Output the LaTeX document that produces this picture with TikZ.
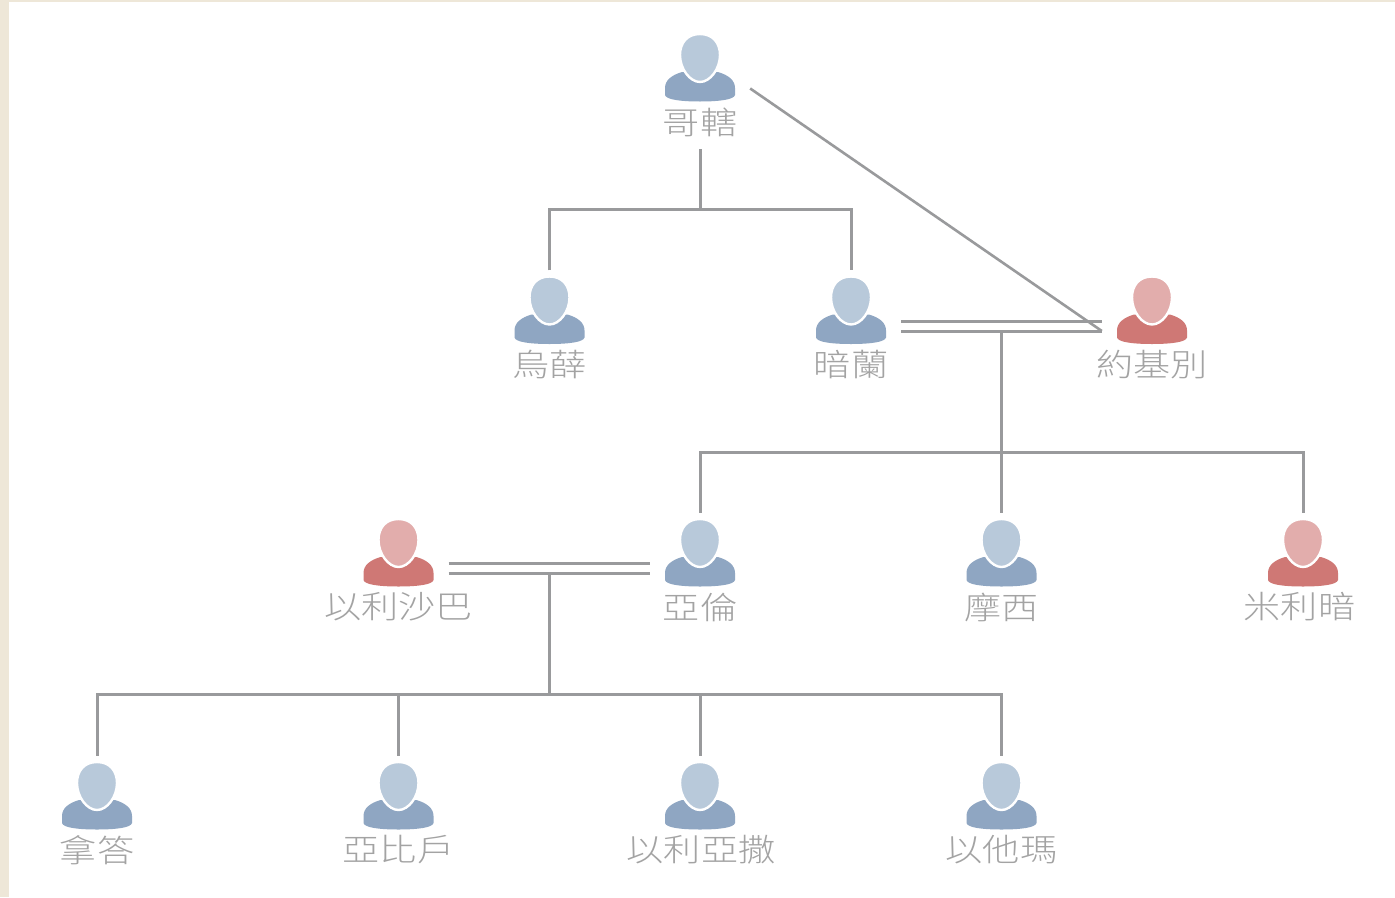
\documentclass[tikz,border=0pt]{standalone}
\usepackage{fontspec}
\newfontfamily\cjk[FakeStretch=1.18]{Noto Sans CJK TC Light}
\tikzset{
  x=1pt,y=-1pt,
  link/.style={draw=linegray,line width=3pt},
  slot/.style={inner sep=0pt,minimum width=100pt,minimum height=121pt},
  namelabel/.style={inner sep=0pt,text=textgray,font=\cjk\fontsize{31.5}{31.5}\selectfont},
}
\definecolor{linegray}{HTML}{999A9C}
\definecolor{textgray}{HTML}{A3A3A3}
\definecolor{mhead}{HTML}{B8C9DA}
\definecolor{mbody}{HTML}{8FA6C2}
\definecolor{fhead}{HTML}{E2ADAC}
\definecolor{fbody}{HTML}{CF7875}
\definecolor{paper}{HTML}{EEE7D8}
% id, centre x, head-top y, m/f, text, text x-offset
\newcommand{\person}[6]{%
  \fill[#4body,shift={(#2,#3)}] (-35,53) .. controls (-35,45) and (-28,40) .. (-18,37)
    -- (18,37) .. controls (28,40) and (35,45) .. (35,53)
    -- (35,60) .. controls (34,64.5) and (20,66.5) .. (0,66.5)
    .. controls (-20,66.5) and (-34,64.5) .. (-35,60) -- cycle;
  \filldraw[fill=#4head,draw=white,line width=2.4pt,shift={(#2,#3)}]
    (0,-1) .. controls (13,-1) and (20,8) .. (20,20)
    .. controls (20,34) and (10,47) .. (0,47)
    .. controls (-10,47) and (-20,34) .. (-20,20)
    .. controls (-20,8) and (-13,-1) .. (0,-1) -- cycle;
  \node[slot] (#1) at (#2,#3+53.5) {};
  \node[namelabel] (#1label) at (#2+#6,#3+87) {#5};
}
\begin{document}
\begin{tikzpicture}
\useasboundingbox (0,0) rectangle (1395,897);
\fill[white] (0,0) rectangle (1395,897);
\fill[paper] (0,0) rectangle (9,897);
\fill[paper] (0,0) rectangle (1395,2);

\person{gohath}{700}{35}{m}{哥轄}{0}
\person{uzziel}{549.5}{277.5}{m}{烏薛}{0}
\person{amram}{851}{277.5}{m}{暗蘭}{0}
\person{jochebed}{1152}{277.5}{f}{約基別}{0}
\person{elisheba}{398.5}{520}{f}{以利沙巴}{0}
\person{aaron}{700}{520}{m}{亞倫}{0}
\person{moses}{1001.5}{520}{m}{摩西}{0}
\person{miriam}{1303}{520}{f}{米利暗}{-3.5}
\person{nadab}{97}{763}{m}{拿答}{0}
\person{abihu}{398.5}{763}{m}{亞比戶}{0}
\person{eleazar}{700}{763}{m}{以利亞撒}{1}
\person{ithamar}{1001.5}{763}{m}{以他瑪}{0}

% Gohath's children and Jochebed
\draw[link] (gohath.south) -- ++(0,60) coordinate (gbar);
\draw[link] (uzziel.north) |- (gbar) -| (amram.north);
\draw[link,line width=2.6pt] (gohath.east) -- (jochebed.west);

% Amram + Jochebed
\draw[link] (amram.east) -- coordinate (amid) (jochebed.west);
\draw[link] ([yshift=10pt]amram.east) -- ([yshift=10pt]jochebed.west);
\draw[link] (amid) -- ++(0,121) coordinate (abar);
\draw[link] (aaron.north) |- (abar) -| (miriam.north);
\draw[link] (abar) -- (moses.north);

% Elisheba + Aaron
\draw[link] (elisheba.east) -- coordinate (emid) (aaron.west);
\draw[link] ([yshift=10pt]elisheba.east) -- ([yshift=10pt]aaron.west);
\draw[link] (emid) -- ++(0,121) coordinate (ebar);
\draw[link] (nadab.north) |- (ebar) -| (ithamar.north);
\draw[link] (abihu.north) -- (abihu.north |- ebar);
\draw[link] (eleazar.north) -- (eleazar.north |- ebar);
\end{tikzpicture}
\end{document}
